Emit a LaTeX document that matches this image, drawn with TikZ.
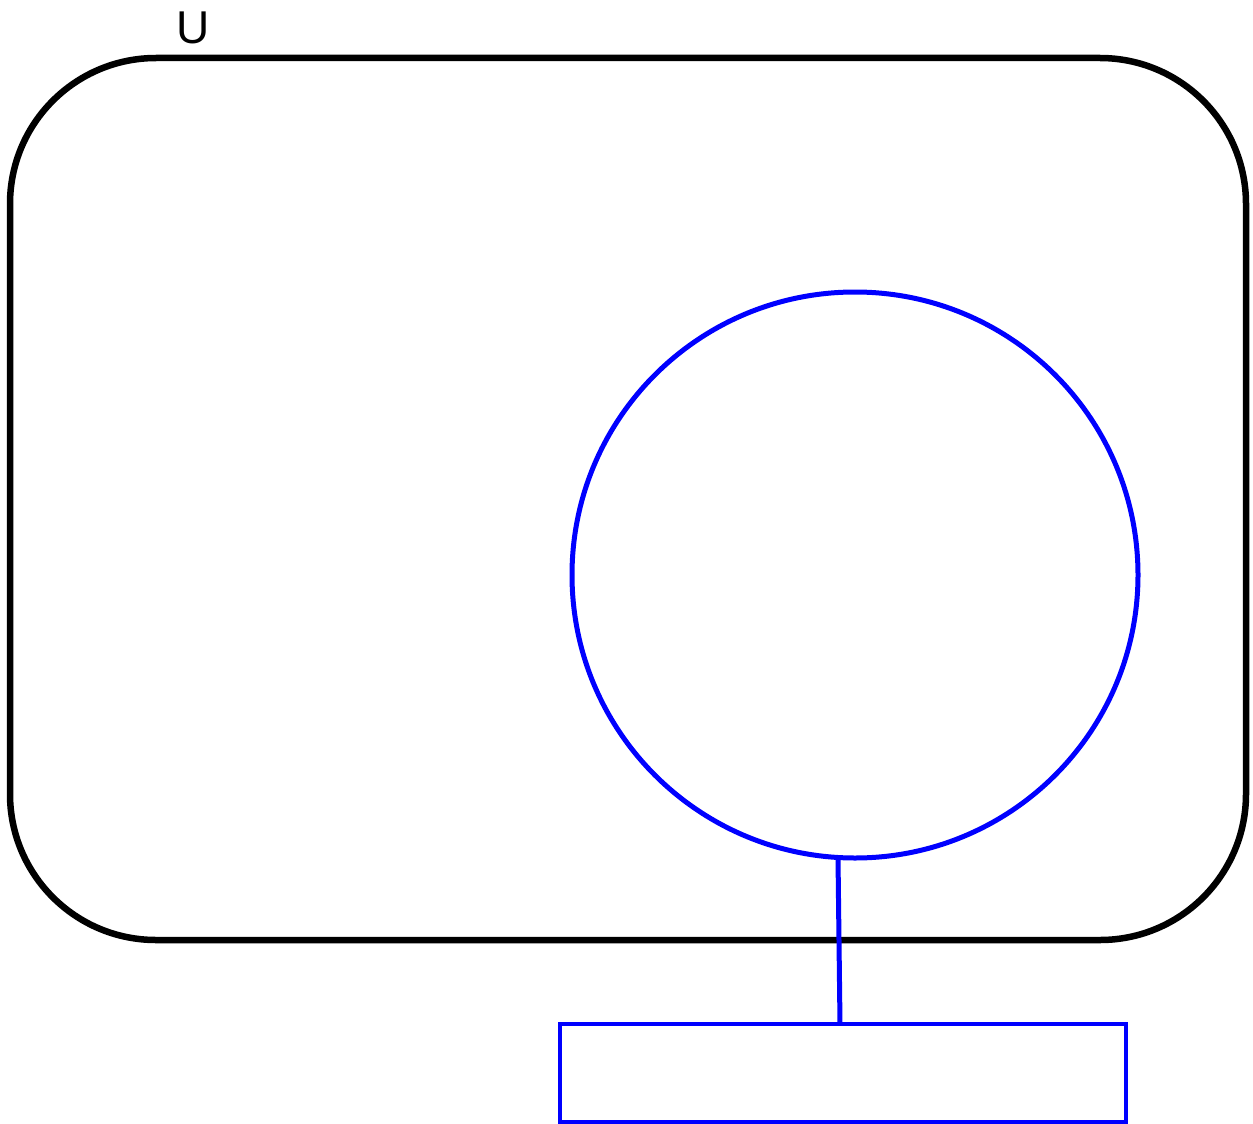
\documentclass[tikz,border=0pt]{standalone}
\usepackage{fontspec}
\setmainfont{Liberation Sans}
\begin{document}
\begin{tikzpicture}[x=1pt,y=-1pt,
  universe/.style={draw=black,line width=6.5pt,rounded corners=146pt,inner sep=0pt,outer sep=0pt,minimum width=1236pt,minimum height=882pt},
  setcircle/.style={draw=blue,line width=5pt,circle,inner sep=0pt,outer sep=0pt,minimum size=566pt},
  labelbox/.style={draw=blue,line width=4pt,rectangle,inner sep=0pt,outer sep=0pt,minimum width=566pt,minimum height=98pt},
  link/.style={draw=blue,line width=5pt},
  ulabel/.style={inner sep=0pt,font=\fontsize{46pt}{50pt}\selectfont}]
\useasboundingbox (0,0) rectangle (1253,1124);
\node[universe] (U) at (628,499) {};
\node[ulabel] (Ulab) at (193,28) {U};
\node[setcircle] (A) at (855,575) {};
\node[labelbox] (B) at (843,1073) {};
\draw[link] ([xshift=-17pt,yshift=-282.5pt]A.center) -- ([xshift=-3pt]B.north);
\end{tikzpicture}
\end{document}
